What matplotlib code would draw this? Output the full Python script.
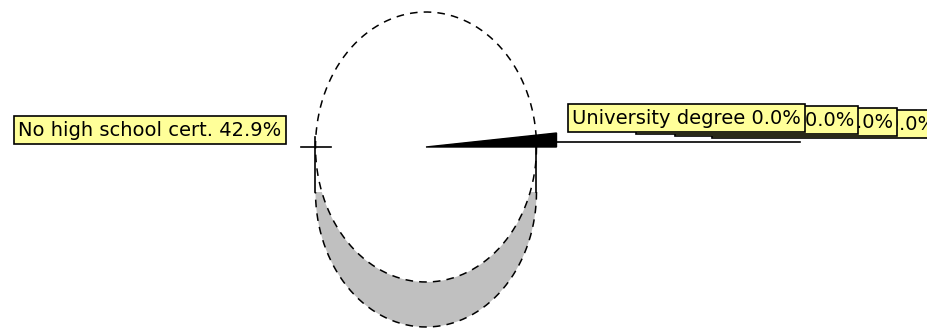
import numpy as np
import matplotlib.pyplot as plt
from matplotlib.patches import Polygon

# pie data (old 3D pie, most slices are empty)
categories = ['No high school cert.', 'University degree', 'College diploma',
              'Trade certificate', 'High school cert.']
values = [42.9, 0.0, 0.0, 0.0, 0.0]
labels = [f'{c} {v:.1f}%' for c, v in zip(categories, values)]

fig = plt.figure(figsize=(9.28, 3.30), dpi=100)
ax = fig.add_axes([0, 0, 1, 1])
ax.set_xlim(0, 928)
ax.set_ylim(330, 0)
ax.axis('off')

cx, cy = 426, 147
rx, ry = 110.5, 135
depth = 45

t = np.linspace(0, 2 * np.pi, 400)
# side wall: lower half of the bottom ellipse, then the top face on top of it
lower = np.linspace(0, np.pi, 200)
side = np.column_stack([cx + rx * np.cos(lower), cy + depth + ry * np.sin(lower)])
ax.add_patch(Polygon(side, closed=True, facecolor='#c0c0c0', edgecolor='none', zorder=1))
top = np.column_stack([cx + rx * np.cos(t), cy + ry * np.sin(t)])
ax.add_patch(Polygon(top, closed=True, facecolor='white', edgecolor='none', zorder=2))
ax.plot(top[:, 0], top[:, 1], color='black', lw=1.1, ls=(0, (5, 4)), zorder=3)
ax.plot(side[:, 0], side[:, 1], color='black', lw=1.1, ls=(0, (5, 4)), zorder=3)
for sx in (cx - rx, cx + rx):
    ax.plot([sx, sx], [cy - 10, cy + depth], color='black', lw=1.2, zorder=3)

# slice boundaries: the empty slices all sit at 3 o'clock
start = 0.0
bounds = np.cumsum(values) / 100 * 360 + start
a = np.deg2rad(bounds[0])
ax.plot([cx + rx * np.cos(a) - 25, cx + rx * np.cos(a) + 5],
        [cy, cy], color='black', lw=1.2, zorder=4)
ax.add_patch(Polygon([[cx, cy], [cx + rx + 20, cy - 14], [cx + rx + 20, cy]],
                     closed=True, facecolor='black', edgecolor='black', lw=1, zorder=4))
ax.plot([cx + rx, 800], [142, 142], color='black', lw=1.2, zorder=4)

box = dict(boxstyle='square,pad=0.22', facecolor='#ffff99', edgecolor='black', lw=1.2)
font = dict(fontsize=14, family='DejaVu Sans')

# left label
ax.text(150, 130, labels[0], ha='center', va='center', bbox=box, zorder=10, **font)

# right labels stacked on each other, later ones hidden below
xs = [801, 854, 893, 936]
ys = [118, 120, 122, 124]
for i, (lx, ly) in enumerate(zip(xs, ys)):
    ax.text(lx, ly, labels[i + 1], ha='right', va='center', bbox=box,
            zorder=10 - i, clip_on=True, **font)

fig.savefig('out.png', dpi=100)
